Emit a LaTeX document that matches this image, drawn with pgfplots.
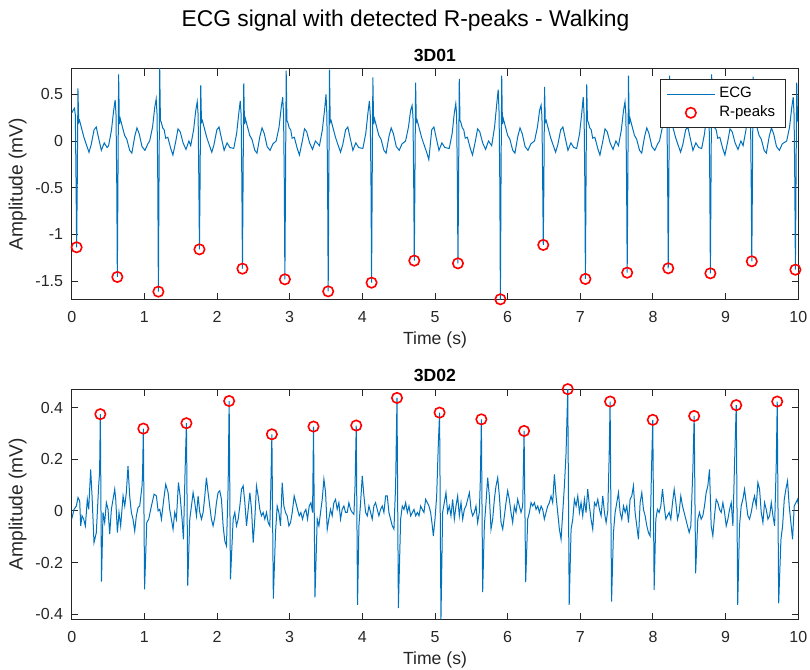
\documentclass[border=0pt]{standalone}
\usepackage{fontspec}
\setmainfont{Liberation Sans}
\usepackage{pgfplots}
\pgfplotsset{compat=1.18}
\definecolor{mblue}{rgb}{0,0.447,0.741}
\definecolor{axgray}{rgb}{0.15,0.15,0.15}
\pgfplotsset{
  lineleg/.style={legend image code/.code={\draw[##1] (0pt,0pt) -- (24pt,0pt);}},
  markleg/.style={legend image code/.code={\draw[##1] plot coordinates {(12pt,0pt)};}},
  ecgax/.style={
  scale only axis, width=363.3pt, height=115.15pt,
  xmin=0, xmax=10, xtick={0,1,2,3,4,5,6,7,8,9,10},
  tick align=inside, major tick length=3.3pt,
  axis line style={axgray, line width=0.5pt},
  every tick/.style={axgray, line width=0.5pt},
  tick label style={font=\fontsize{8}{9.6}\selectfont, text=axgray},
  /pgf/number format/assume math mode=true,
  /pgf/number format/fixed,
  xticklabel style={anchor=base, yshift=-11.5pt, inner sep=0pt},
  yticklabel style={anchor=east, xshift=-4.15pt, inner sep=0pt},
  xlabel style={at={(axis description cs:0.5,-0.1984)}, anchor=base, inner sep=0pt, font=\fontsize{8.8}{10}\selectfont, text=axgray},
  ylabel style={at={(axis description cs:-0.0676,0.5)}, anchor=base, inner sep=0pt, font=\fontsize{9.6}{11}\selectfont, text=axgray},
  title style={at={(axis description cs:0.5,1.0321)}, anchor=base, yshift=-6pt, font=\bfseries\fontsize{8.8}{10}\selectfont, inner sep=0pt},
  xlabel={Time (s)}, ylabel={Amplitude (mV)},
}}
\begin{document}
\begin{tikzpicture}
\useasboundingbox (0,0) rectangle (405pt,335pt);
\node[anchor=base, font=\fontsize{11.4}{13}\selectfont] at (202.75pt,321.5pt) {ECG signal with detected R-peaks - Walking};
\begin{axis}[ecgax, at={(35.85pt,185.35pt)}, anchor=south west,
  ymin=-1.695, ymax=0.771, ytick={-1.5,-1,-0.5,0,0.5},
  title={3D01},
  legend style={at={(axis description cs:0.9825,0.9566)}, anchor=north east, draw=axgray, line width=0.4pt, fill=white, font=\fontsize{7.5}{8.6}\selectfont, row sep=-1.5pt},
  legend cell align=left]
\addplot[mblue, line width=0.5pt, lineleg] coordinates {
(0,0.30) (0.02,0.33) (0.038,0.35) (0.05,0.28) (0.06,-0.45) (0.068,-1.138) (0.076,-0.5) (0.086,0.564) (0.096,0.2) (0.108,0.22) (0.128,0.16) (0.148,0.1) (0.168,0.04) (0.198,-0.03) (0.238,-0.12) (0.268,-0.04) (0.308,0.12) (0.338,0.15) (0.368,0.04) (0.408,-0.1) (0.448,-0.02) (0.488,-0.07)
(0.508,-0.05) (0.548,0.12) (0.578,0.33) (0.598,0.44) (0.61,0.28) (0.62,-0.45) (0.628,-1.456) (0.636,-0.5) (0.646,0.714) (0.656,0.18) (0.668,0.24) (0.688,0.18) (0.708,0.12) (0.728,0.06) (0.758,0.02) (0.798,-0.1) (0.828,-0.13) (0.868,0.05) (0.898,0.14) (0.928,0.08) (0.968,-0.06) (1.008,-0.1) (1.048,-0.03)
(1.073,0.0) (1.113,0.15) (1.143,0.36) (1.163,0.45) (1.175,0.28) (1.185,-0.45) (1.193,-1.613) (1.201,-0.5) (1.211,0.80) (1.221,0.22) (1.233,0.2) (1.253,0.14) (1.273,0.12) (1.293,0.03) (1.323,0.04) (1.363,-0.08) (1.393,-0.15) (1.433,0.0) (1.463,0.13) (1.493,0.1) (1.533,-0.02) (1.573,-0.09) (1.613,0.0)
(1.638,-0.05) (1.678,0.12) (1.708,0.33) (1.728,0.42) (1.74,0.28) (1.75,-0.45) (1.758,-1.16) (1.766,-0.5) (1.776,0.596) (1.786,0.2) (1.798,0.22) (1.818,0.16) (1.838,0.1) (1.858,0.04) (1.888,-0.03) (1.928,-0.12) (1.958,-0.04) (1.998,0.12) (2.028,0.15) (2.058,0.04) (2.098,-0.1) (2.138,-0.02) (2.178,-0.07)
(2.23,-0.08) (2.27,0.08) (2.30,0.3) (2.32,0.43) (2.332,0.28) (2.342,-0.45) (2.35,-1.367) (2.358,-0.5) (2.368,0.618) (2.378,0.18) (2.39,0.24) (2.41,0.18) (2.43,0.12) (2.45,0.06) (2.48,0.02) (2.52,-0.1) (2.55,-0.13) (2.59,0.05) (2.62,0.14) (2.65,0.08) (2.69,-0.06) (2.73,-0.1) (2.77,-0.03)
(2.814,0.0) (2.854,0.15) (2.884,0.36) (2.904,0.47) (2.916,0.28) (2.926,-0.45) (2.934,-1.481) (2.942,-0.5) (2.952,0.753) (2.962,0.22) (2.974,0.2) (2.994,0.14) (3.014,0.12) (3.034,0.03) (3.064,0.04) (3.104,-0.08) (3.134,-0.15) (3.174,0.0) (3.204,0.13) (3.234,0.1) (3.274,-0.02) (3.314,-0.09) (3.354,0.0)
(3.41,-0.05) (3.45,0.12) (3.48,0.33) (3.50,0.5) (3.512,0.28) (3.522,-0.45) (3.53,-1.61) (3.538,-0.5) (3.548,0.765) (3.558,0.2) (3.57,0.22) (3.59,0.16) (3.61,0.1) (3.63,0.04) (3.66,-0.03) (3.70,-0.12) (3.73,-0.04) (3.77,0.12) (3.80,0.15) (3.83,0.04) (3.87,-0.1) (3.91,-0.02) (3.95,-0.07)
(4.007,-0.08) (4.047,0.08) (4.077,0.3) (4.097,0.43) (4.109,0.28) (4.119,-0.45) (4.127,-1.517) (4.135,-0.5) (4.145,0.682) (4.155,0.18) (4.167,0.24) (4.187,0.18) (4.207,0.12) (4.227,0.06) (4.257,0.02) (4.297,-0.1) (4.327,-0.13) (4.367,0.05) (4.397,0.14) (4.427,0.08) (4.467,-0.06) (4.507,-0.1) (4.547,-0.03)
(4.595,0.0) (4.635,0.15) (4.665,0.33) (4.685,0.38) (4.697,0.26) (4.707,-0.45) (4.715,-1.281) (4.723,-0.5) (4.733,0.624) (4.743,0.2) (4.755,0.22) (4.775,0.16) (4.795,0.1) (4.815,0.04) (4.845,-0.03) (4.885,-0.12) (4.915,-0.2) (4.955,0.12) (4.985,0.15) (5.015,0.04) (5.055,-0.1) (5.095,-0.02) (5.135,-0.07)
(5.196,-0.08) (5.236,0.08) (5.266,0.3) (5.286,0.40) (5.298,0.28) (5.308,-0.45) (5.316,-1.31) (5.324,-0.5) (5.334,0.664) (5.344,0.22) (5.356,0.2) (5.376,0.14) (5.396,0.12) (5.416,0.03) (5.446,0.04) (5.486,-0.08) (5.516,-0.15) (5.556,0.0) (5.586,0.13) (5.616,0.1) (5.656,-0.02) (5.696,-0.09) (5.736,0.0)
(5.78,-0.05) (5.82,0.15) (5.85,0.4) (5.87,0.55) (5.882,0.3) (5.892,-0.45) (5.90,-1.695) (5.908,-0.5) (5.918,0.70) (5.928,0.18) (5.94,0.24) (5.96,0.18) (5.98,0.12) (6.00,0.06) (6.03,0.02) (6.07,-0.1) (6.10,-0.13) (6.14,0.05) (6.17,0.14) (6.20,0.08) (6.24,-0.06) (6.28,-0.1) (6.32,-0.03)
(6.37,0.0) (6.41,0.15) (6.44,0.33) (6.46,0.385) (6.472,0.26) (6.482,-0.45) (6.49,-1.113) (6.498,-0.5) (6.508,0.58) (6.518,0.2) (6.53,0.22) (6.55,0.16) (6.57,0.1) (6.59,0.04) (6.62,-0.03) (6.66,-0.12) (6.69,-0.04) (6.73,0.12) (6.76,0.15) (6.79,0.04) (6.83,-0.1) (6.87,-0.02) (6.91,-0.07)
(6.95,-0.08) (6.99,0.08) (7.02,0.3) (7.04,0.47) (7.052,0.28) (7.062,-0.45) (7.07,-1.477) (7.078,-0.5) (7.088,0.607) (7.098,0.22) (7.11,0.2) (7.13,0.14) (7.15,0.12) (7.17,0.03) (7.20,0.04) (7.24,-0.08) (7.27,-0.15) (7.31,0.0) (7.34,0.13) (7.37,0.1) (7.41,-0.02) (7.45,-0.09) (7.49,0.0)
(7.525,-0.05) (7.565,0.12) (7.595,0.33) (7.615,0.42) (7.627,0.28) (7.637,-0.45) (7.645,-1.41) (7.653,-0.5) (7.663,0.70) (7.673,0.18) (7.685,0.24) (7.705,0.18) (7.725,0.12) (7.745,0.06) (7.775,0.02) (7.815,-0.1) (7.845,-0.13) (7.885,0.05) (7.915,0.14) (7.945,0.08) (7.985,-0.06) (8.025,-0.1) (8.065,-0.03)
(8.09,0.0) (8.13,0.15) (8.16,0.36) (8.18,0.45) (8.192,0.28) (8.202,-0.45) (8.21,-1.363) (8.218,-0.5) (8.228,0.70) (8.238,0.2) (8.25,0.22) (8.27,0.16) (8.29,0.1) (8.31,0.04) (8.34,-0.03) (8.38,-0.12) (8.41,-0.04) (8.45,0.12) (8.48,0.15) (8.51,0.04) (8.55,-0.1) (8.59,-0.02) (8.63,-0.07)
(8.67,-0.08) (8.71,0.08) (8.74,0.3) (8.76,0.45) (8.772,0.28) (8.782,-0.45) (8.79,-1.417) (8.798,-0.5) (8.808,0.714) (8.818,0.22) (8.83,0.2) (8.85,0.14) (8.87,0.12) (8.89,0.03) (8.92,0.04) (8.96,-0.08) (8.99,-0.15) (9.03,0.0) (9.06,0.13) (9.09,0.1) (9.13,-0.02) (9.17,-0.09) (9.21,0.0)
(9.24,-0.05) (9.28,0.12) (9.31,0.33) (9.33,0.45) (9.342,0.28) (9.352,-0.45) (9.36,-1.288) (9.368,-0.5) (9.378,0.69) (9.388,0.18) (9.40,0.24) (9.42,0.18) (9.44,0.12) (9.46,0.06) (9.49,0.02) (9.53,-0.1) (9.56,-0.13) (9.60,0.05) (9.63,0.14) (9.66,0.08) (9.70,-0.06) (9.74,-0.1) (9.78,-0.03)
(9.84,0.0) (9.88,0.15) (9.91,0.36) (9.93,0.47) (9.942,0.28) (9.952,-0.45) (9.96,-1.378) (9.968,-0.5) (9.978,0.624) (9.99,0.22) (10.0,0.2)
};
\addlegendentry{ECG}
\addplot[only marks, mark=o, mark size=2.6pt, red, line width=0.8pt, markleg] coordinates {
(0.068,-1.138) (0.628,-1.456) (1.193,-1.613) (1.758,-1.16) (2.35,-1.367) (2.934,-1.481) (3.53,-1.61) (4.127,-1.517) (4.715,-1.281) (5.316,-1.31) (5.90,-1.695) (6.49,-1.113) (7.07,-1.477) (7.645,-1.41) (8.21,-1.363) (8.79,-1.417) (9.36,-1.288) (9.96,-1.378)
};
\addlegendentry{R-peaks}
\end{axis}
\begin{axis}[ecgax, at={(35.85pt,25.35pt)}, anchor=south west,
  ymin=-0.42, ymax=0.4725, ytick={-0.4,-0.2,0,0.2,0.4},
  title={3D02}]
\addplot[mblue, line width=0.5pt] coordinates {
(0,-0.032) (0.032,0.006) (0.064,0.019) (0.087,0.052) (0.110,0.039) (0.124,-0.058) (0.142,-0.019) (0.165,-0.032) (0.188,-0.058) (0.215,0.045) (0.234,0.006) (0.261,0.161) (0.280,0.058) (0.307,-0.123) (0.339,-0.084) (0.371,0.097) (0.384,0.15) (0.394,0.375) (0.410,-0.274) (0.431,-0.006) (0.454,-0.045) (0.477,0.032) (0.500,0.006) (0.523,-0.090) (0.546,0.006) (0.569,0.045) (0.592,0.084) (0.606,0.045) (0.629,-0.084) (0.651,-0.006) (0.674,-0.058) (0.707,0.058) (0.730,0.019) (0.752,0.071) (0.775,0.174) (0.798,0.058) (0.821,-0.006) (0.844,-0.032) (0.867,-0.078) (0.890,-0.019) (0.913,0.013) (0.936,0.019) (0.968,0.097) (0.976,0.15) (0.986,0.319) (1.003,-0.304) (1.033,-0.045) (1.060,-0.032) (1.097,0.019) (1.134,0.065) (1.166,0.058) (1.189,0.0) (1.212,0.006) (1.235,-0.032) (1.267,0.045) (1.294,0.103) (1.327,0.071) (1.349,0.006) (1.372,-0.032) (1.395,-0.071) (1.418,-0.006) (1.441,-0.032) (1.469,0.110) (1.492,0.058) (1.519,-0.032) (1.538,-0.110) (1.561,0.161) (1.579,0.340) (1.597,-0.289) (1.625,-0.032) (1.648,0.019) (1.671,0.071) (1.694,0.032) (1.717,-0.019) (1.740,0.058) (1.763,-0.006) (1.786,-0.032) (1.809,-0.006) (1.832,0.058) (1.854,0.129) (1.877,0.071) (1.900,0.019) (1.923,-0.032) (1.946,-0.058) (1.969,-0.026) (1.992,0.032) (2.015,0.071) (2.038,0.078) (2.061,0.045) (2.084,-0.058) (2.107,-0.116) (2.130,-0.136) (2.153,0.097) (2.167,0.426) (2.185,-0.265) (2.222,-0.032) (2.245,-0.006) (2.268,-0.058) (2.291,-0.032) (2.314,0.019) (2.337,0.084) (2.360,0.097) (2.383,0.032) (2.406,-0.058) (2.429,0.006) (2.452,0.071) (2.475,0.006) (2.498,-0.123)
(2.520,-0.032) (2.543,0.097) (2.566,0.058) (2.589,0.006) (2.612,-0.019) (2.635,-0.006) (2.658,-0.032) (2.681,-0.006) (2.704,-0.045) (2.727,-0.058) (2.741,0.097) (2.755,0.297) (2.775,-0.340) (2.805,-0.084) (2.828,0.019) (2.851,-0.006) (2.874,-0.058) (2.897,0.110) (2.920,0.019) (2.943,-0.006) (2.966,-0.019) (2.989,-0.058) (3.012,-0.045) (3.035,-0.006) (3.062,0.058) (3.085,0.032) (3.108,0.006) (3.131,-0.019) (3.154,-0.006) (3.177,-0.032) (3.200,-0.006) (3.223,0.006) (3.246,-0.032) (3.269,0.019) (3.292,0.032) (3.315,-0.006) (3.328,0.327) (3.348,-0.335) (3.379,-0.032) (3.402,-0.058) (3.425,-0.006) (3.448,0.045) (3.471,0.123) (3.494,0.071) (3.517,-0.071) (3.539,-0.032) (3.562,0.006) (3.585,-0.019) (3.608,0.032) (3.631,0.045) (3.654,0.006) (3.677,0.032) (3.700,-0.032) (3.723,0.006) (3.746,0.019) (3.769,-0.006) (3.792,-0.006) (3.815,0.032) (3.838,0.006) (3.861,-0.006) (3.884,-0.013) (3.900,0.1) (3.916,0.331) (3.934,-0.364) (3.953,-0.058) (3.976,0.032) (3.999,0.136) (4.022,0.058) (4.045,-0.006) (4.068,-0.019) (4.091,0.019) (4.114,-0.006) (4.136,-0.032) (4.159,0.019) (4.182,0.032) (4.205,0.006) (4.228,-0.019) (4.251,0.006) (4.274,0.019) (4.297,-0.006) (4.320,0.058) (4.343,0.058) (4.366,-0.006) (4.389,-0.032) (4.412,-0.058) (4.435,-0.071) (4.458,0.097) (4.477,0.438) (4.496,-0.377) (4.527,-0.032) (4.550,0.019) (4.573,0.006) (4.596,0.032) (4.619,-0.006) (4.642,0.019) (4.665,-0.019) (4.688,-0.006) (4.711,0.006) (4.734,-0.019) (4.757,-0.006) (4.780,-0.019) (4.803,0.019) (4.825,0.006) (4.848,-0.006) (4.871,0.045) (4.894,0.032) (4.917,0.019) (4.940,-0.006) (4.963,-0.058) (4.977,-0.097)
(5.000,-0.032) (5.023,0.058) (5.045,0.252) (5.063,0.381) (5.082,-0.420) (5.105,-0.006) (5.128,0.032) (5.151,0.071) (5.174,-0.006) (5.197,0.019) (5.220,-0.019) (5.243,0.045) (5.266,-0.032) (5.289,0.019) (5.312,0.058) (5.335,-0.019) (5.358,0.032) (5.381,-0.032) (5.404,0.006) (5.427,0.019) (5.450,0.045) (5.473,0.071) (5.496,0.006) (5.518,-0.019) (5.541,-0.006) (5.564,0.019) (5.587,-0.045) (5.610,-0.006) (5.624,0.12) (5.638,0.355) (5.656,-0.315) (5.679,-0.058) (5.702,0.032) (5.725,0.129) (5.748,0.058) (5.771,-0.071) (5.794,-0.032) (5.817,0.045) (5.840,0.097) (5.863,0.129) (5.886,0.058) (5.909,-0.045) (5.932,-0.071) (5.955,-0.019) (5.977,0.032) (6.000,0.078) (6.023,0.045) (6.046,-0.006) (6.069,-0.045) (6.092,0.019) (6.115,-0.006) (6.138,0.045) (6.161,0.019) (6.184,-0.006) (6.207,0.019) (6.226,0.310) (6.248,-0.276) (6.276,-0.032) (6.299,-0.006) (6.322,0.032) (6.345,0.019) (6.368,0.032) (6.391,0.006) (6.414,0.019) (6.437,-0.006) (6.460,0.019) (6.482,0.006) (6.505,-0.032) (6.528,-0.006) (6.551,0.019) (6.574,0.032) (6.597,0.058) (6.620,0.032) (6.643,0.142) (6.666,0.058) (6.689,-0.006) (6.712,-0.071) (6.735,-0.110) (6.758,-0.006) (6.781,0.097) (6.804,0.226) (6.827,0.472) (6.847,-0.364) (6.873,-0.071) (6.896,-0.032) (6.919,0.045) (6.942,0.019) (6.965,0.058) (6.988,-0.006) (7.010,0.032) (7.033,-0.019) (7.056,0.045) (7.079,-0.006) (7.102,0.084) (7.125,0.019) (7.148,-0.032) (7.171,-0.071) (7.194,0.032) (7.217,0.019) (7.240,0.045) (7.263,0.006) (7.286,-0.019) (7.309,0.058) (7.332,-0.006) (7.355,-0.045) (7.378,0.0) (7.396,0.2) (7.410,0.424) (7.430,-0.351)
(7.456,-0.084) (7.479,-0.006) (7.502,0.032) (7.525,0.071) (7.548,-0.006) (7.571,-0.032) (7.594,0.019) (7.617,-0.006) (7.640,0.019) (7.663,-0.045) (7.685,0.045) (7.708,0.058) (7.731,0.097) (7.754,-0.006) (7.777,-0.058) (7.800,-0.110) (7.823,0.032) (7.846,0.071) (7.869,0.006) (7.892,-0.019) (7.915,-0.058) (7.938,-0.084) (7.961,-0.097) (7.980,0.161) (7.997,0.353) (8.016,-0.306) (8.039,-0.032) (8.062,0.006) (8.085,-0.006) (8.108,0.019) (8.131,0.084) (8.154,0.019) (8.177,-0.032) (8.200,-0.019) (8.223,-0.006) (8.246,-0.032) (8.269,0.032) (8.292,0.084) (8.315,0.032) (8.338,-0.032) (8.360,-0.006) (8.383,0.058) (8.406,0.019) (8.429,-0.006) (8.452,-0.032) (8.475,-0.058) (8.498,-0.084) (8.521,-0.058) (8.549,0.161) (8.567,0.368) (8.587,-0.242) (8.617,-0.032) (8.640,-0.006) (8.663,-0.032) (8.686,-0.019) (8.709,0.019) (8.732,0.071) (8.755,0.097) (8.778,0.161) (8.801,-0.058) (8.824,-0.097) (8.847,-0.019) (8.870,0.045) (8.893,0.032) (8.916,0.006) (8.939,-0.006) (8.962,0.032) (8.985,-0.006) (9.008,-0.058) (9.031,-0.032) (9.054,0.006) (9.077,0.032) (9.100,-0.058) (9.123,0.187) (9.146,0.410) (9.166,-0.364) (9.191,-0.058) (9.214,0.019) (9.237,0.045) (9.260,0.084) (9.283,0.032) (9.306,-0.019) (9.329,-0.032) (9.352,-0.006) (9.375,0.032) (9.398,0.058) (9.421,0.019) (9.444,0.110) (9.467,0.084) (9.490,-0.006) (9.513,-0.045) (9.536,0.032) (9.559,0.006) (9.582,-0.032) (9.605,-0.019) (9.628,0.032) (9.651,-0.019) (9.674,-0.058) (9.697,0.187) (9.710,0.424) (9.730,-0.358) (9.761,-0.110) (9.784,-0.058) (9.807,0.045) (9.829,0.084) (9.852,0.116) (9.875,0.019) (9.898,-0.045) (9.921,-0.110) (9.944,0.019) (9.967,0.032) (9.990,0.045) (10.0,0.026)
};
\addplot[only marks, mark=o, mark size=2.6pt, red, line width=0.8pt] coordinates {
(0.394,0.375) (0.986,0.319) (1.579,0.340) (2.167,0.426) (2.755,0.297) (3.328,0.327) (3.916,0.331) (4.477,0.438) (5.063,0.381) (5.638,0.355) (6.226,0.310) (6.827,0.472) (7.41,0.424) (7.997,0.353) (8.567,0.368) (9.146,0.41) (9.71,0.424)
};
\end{axis}
\end{tikzpicture}
\end{document}
